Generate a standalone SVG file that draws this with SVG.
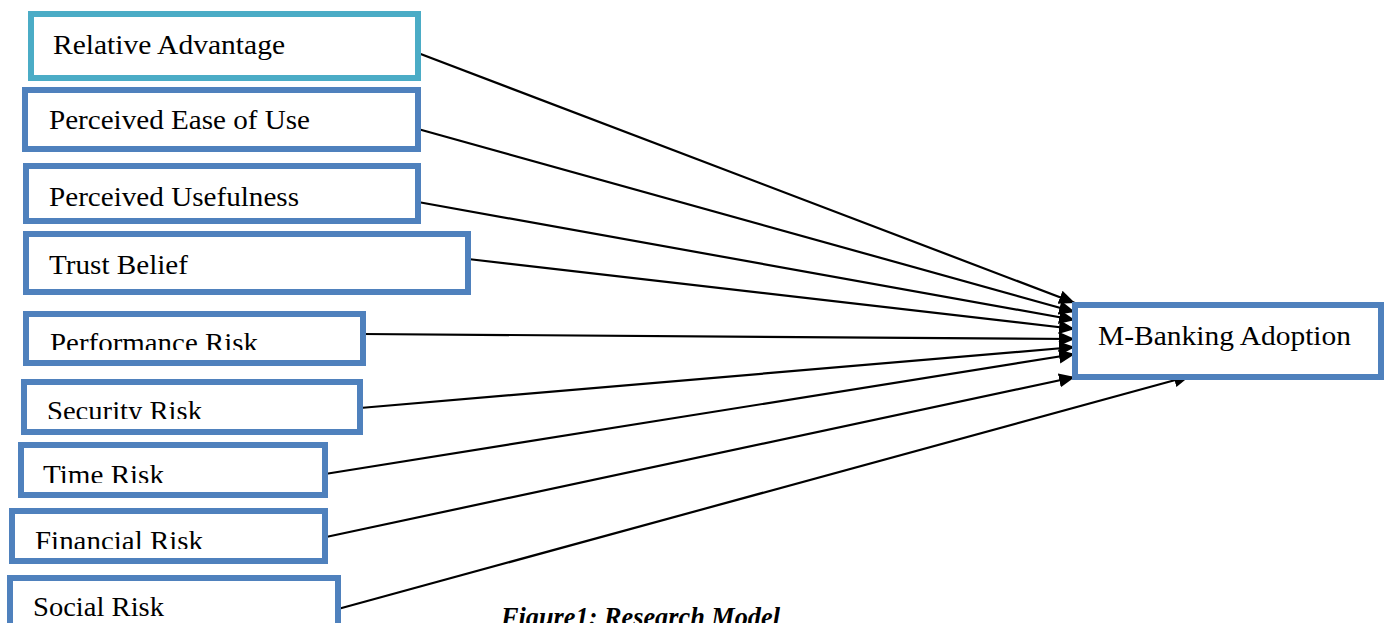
<svg xmlns="http://www.w3.org/2000/svg" width="1385" height="623" viewBox="0 0 1385 623">
  <style>
    .box { fill: #ffffff; stroke: #4F81BD; stroke-width: 6; }
    .box-accent { fill: #ffffff; stroke: #4BACC6; stroke-width: 6; }
    .label { font-family: "Liberation Serif", "Times New Roman", serif; font-size: 27.5px; fill: #000000; }
    .caption { font-family: "Liberation Serif", "Times New Roman", serif; font-size: 27px; font-weight: bold; font-style: italic; fill: #000000; }
    .link { stroke: #000000; stroke-width: 2.2; fill: none; marker-end: url(#arrow); }
  </style>
  <defs>
    <marker id="arrow" markerUnits="userSpaceOnUse" markerWidth="18" markerHeight="16" refX="16" refY="8" orient="auto">
      <path d="M0,1 L16,8 L0,15 Z" fill="#000000"/>
    </marker>
    <!-- text frames that cut off the lower part of some labels -->
    <clipPath id="clip-pr"><rect x="0" y="300" width="400" height="50"/></clipPath>
    <clipPath id="clip-sr"><rect x="0" y="370" width="400" height="49"/></clipPath>
    <clipPath id="clip-tr"><rect x="0" y="440" width="400" height="43"/></clipPath>
    <clipPath id="clip-fr"><rect x="0" y="505" width="400" height="44"/></clipPath>
    <clipPath id="clip-sor"><rect x="0" y="570" width="400" height="47"/></clipPath>
  </defs>

  <rect width="1385" height="623" fill="#ffffff"/>

  <g id="connectors">
    <line class="link" x1="418" y1="53" x2="1075" y2="303"/>
    <line class="link" x1="418" y1="129" x2="1075" y2="312"/>
    <line class="link" x1="418" y1="202" x2="1075" y2="320"/>
    <line class="link" x1="468" y1="259" x2="1075" y2="329"/>
    <line class="link" x1="363" y1="334" x2="1075" y2="339"/>
    <line class="link" x1="360" y1="408" x2="1075" y2="347"/>
    <line class="link" x1="325" y1="474" x2="1075" y2="354"/>
    <line class="link" x1="326" y1="537" x2="1075" y2="377"/>
    <line class="link" x1="338" y1="609" x2="1190" y2="376"/>
  </g>

  <g id="relative-advantage">
    <rect class="box-accent" x="31" y="14" width="387" height="64"/>
    <text class="label" x="53" y="54" textLength="232" lengthAdjust="spacingAndGlyphs">Relative Advantage</text>
  </g>
  <g id="perceived-ease-of-use">
    <rect class="box" x="25" y="90" width="393" height="59"/>
    <text class="label" x="49" y="129" textLength="261" lengthAdjust="spacingAndGlyphs">Perceived Ease of Use</text>
  </g>
  <g id="perceived-usefulness">
    <rect class="box" x="26" y="166" width="392" height="55"/>
    <text class="label" x="49" y="206" textLength="250" lengthAdjust="spacingAndGlyphs">Perceived Usefulness</text>
  </g>
  <g id="trust-belief">
    <rect class="box" x="26" y="234" width="442" height="58"/>
    <text class="label" x="49" y="274" textLength="139" lengthAdjust="spacingAndGlyphs">Trust Belief</text>
  </g>
  <g id="performance-risk">
    <rect class="box" x="26" y="314" width="337" height="49"/>
    <text class="label" x="50" y="352" textLength="208" lengthAdjust="spacingAndGlyphs" clip-path="url(#clip-pr)">Performance Risk</text>
  </g>
  <g id="security-risk">
    <rect class="box" x="24" y="382" width="336" height="50"/>
    <text class="label" x="47" y="420" textLength="155" lengthAdjust="spacingAndGlyphs" clip-path="url(#clip-sr)">Security Risk</text>
  </g>
  <g id="time-risk">
    <rect class="box" x="21" y="445" width="304" height="50"/>
    <text class="label" x="43" y="484" textLength="121" lengthAdjust="spacingAndGlyphs" clip-path="url(#clip-tr)">Time Risk</text>
  </g>
  <g id="financial-risk">
    <rect class="box" x="12" y="511" width="313" height="50"/>
    <text class="label" x="35" y="550" textLength="168" lengthAdjust="spacingAndGlyphs" clip-path="url(#clip-fr)">Financial Risk</text>
  </g>
  <g id="social-risk">
    <rect class="box" x="10" y="578" width="328" height="60"/>
    <text class="label" x="33" y="616" textLength="131" lengthAdjust="spacingAndGlyphs" clip-path="url(#clip-sor)">Social Risk</text>
  </g>
  <g id="m-banking-adoption">
    <rect class="box" x="1075" y="305" width="306" height="72"/>
    <text class="label" x="1098" y="345" textLength="253" lengthAdjust="spacingAndGlyphs">M-Banking Adoption</text>
  </g>

  <text class="caption" x="501" y="626" textLength="279" lengthAdjust="spacingAndGlyphs">Figure1: Research Model</text>
</svg>
